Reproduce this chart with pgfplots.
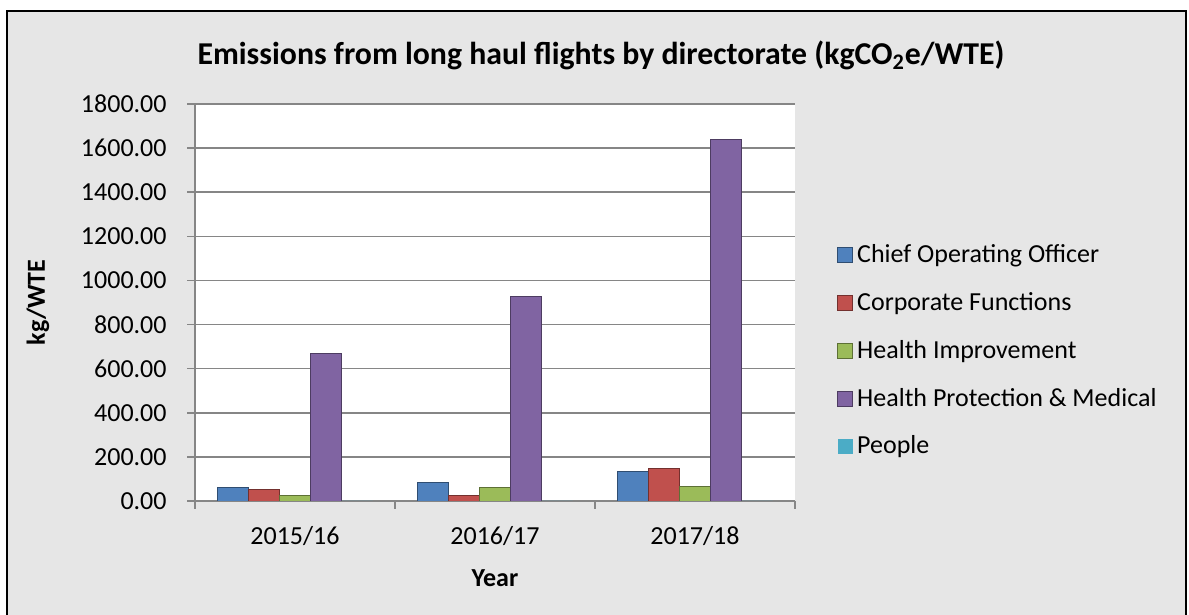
\documentclass[border=0pt]{standalone}
\usepackage{fontspec}
\setmainfont{Carlito}
\usepackage{pgfplots}
\pgfplotsset{compat=1.18}
\definecolor{coo}{RGB}{79,129,189}
\definecolor{cf}{RGB}{192,80,77}
\definecolor{hi}{RGB}{155,187,89}
\definecolor{hpm}{RGB}{128,100,162}
\definecolor{ppl}{RGB}{75,172,198}
\definecolor{bg}{RGB}{230,230,230}
\definecolor{gridc}{RGB}{134,134,134}
\begin{document}
\fontsize{13pt}{15pt}\selectfont
\begin{tikzpicture}[x=1pt,y=1pt]
\useasboundingbox (0,0) rectangle (594.5,307.5);
\fill[bg] (3.5,-5) rectangle (593,302);
\draw[black, line width=1pt] (3.5,-5) rectangle (593,302);
\node[font=\bfseries\fontsize{15.9pt}{17pt}\selectfont] at (300.5,280) {Emissions from long haul flights by directorate (kgCO\textsubscript{2}e/WTE)};
\begin{axis}[
  at={(97.5pt,57pt)}, anchor=south west,
  scale only axis, width=300pt, height=198.5pt,
  ybar=0pt, bar width=15.5pt,
  xmin=-0.5, xmax=2.5, ymin=0, ymax=1800,
  xtick={-0.5,0.5,1.5,2.5}, xticklabels={},
  extra x ticks={0,1,2}, extra x tick labels={2015/16,2016/17,2017/18},
  extra x tick style={major tick length=0pt, grid=none},
  ytick={0,200,...,1800},
  ymajorgrids, grid style={gridc, line width=0.8pt},
  axis line style={gridc, line width=0.8pt},
  axis x line*=bottom, axis y line*=left,
  tick align=outside, major tick length=4pt,
  tick style={gridc, line width=0.8pt},
  yticklabel style={anchor=east, inner sep=0pt, xshift=-10pt},
  xticklabel style={anchor=base, inner sep=0pt, yshift=-22pt},
  /pgf/number format/assume math mode=true,
  /pgf/number format/.cd, fixed, fixed zerofill, precision=2, 1000 sep={},
  /pgfplots/.cd,
  axis background/.style={fill=white},
  xlabel={\bfseries Year}, ylabel={\bfseries kg/WTE},
  xlabel style={at={(axis description cs:0.5,0)}, anchor=center, yshift=-38.5pt},
  ylabel style={at={(axis description cs:0,0.5)}, anchor=center, yshift=78.5pt},
  legend style={draw=none, fill=none, at={(rel axis cs:1.07,0.658)}, anchor=north west, row sep=9pt, inner sep=0pt},
  legend cell align=left,
  legend image code/.code={\fill[#1] (0pt,-3.75pt) rectangle (7.5pt,3.75pt);},
]
\addplot[fill=coo, draw=coo!60!black] coordinates {(0,61) (1,86) (2,135)};
\addplot[fill=cf, draw=cf!60!black] coordinates {(0,52) (1,24) (2,148)};
\addplot[fill=hi, draw=hi!60!black] coordinates {(0,26) (1,63) (2,65)};
\addplot[fill=hpm, draw=hpm!60!black] coordinates {(0,668) (1,928) (2,1640)};
\addplot[fill=ppl, draw=none] coordinates {(0,0) (1,0) (2,0)};
\legend{Chief Operating Officer, Corporate Functions, Health Improvement, Health Protection \& Medical, People}
\end{axis}
\end{tikzpicture}
\end{document}
